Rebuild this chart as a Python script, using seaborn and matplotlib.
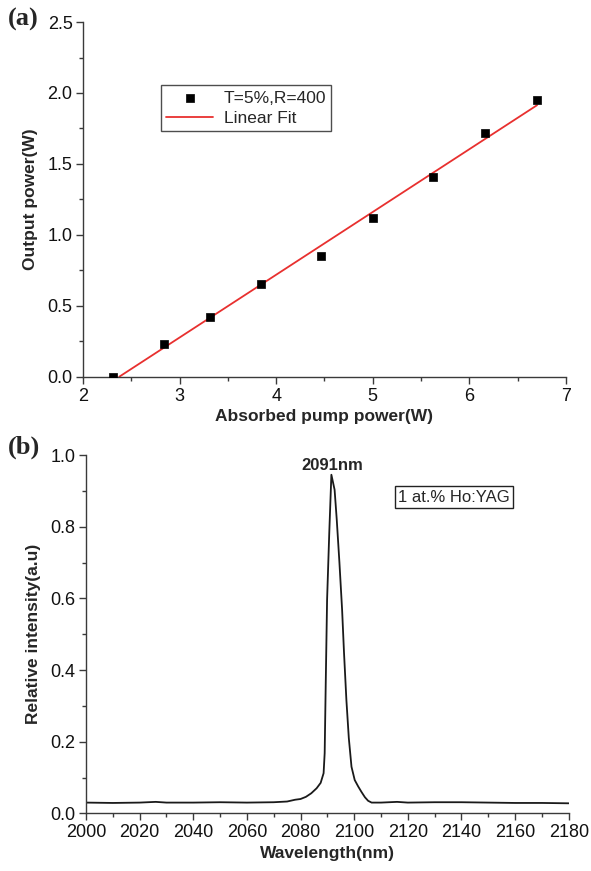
import numpy as np
import pandas as pd
import matplotlib
matplotlib.use("Agg")
import matplotlib.pyplot as plt
from matplotlib.ticker import MultipleLocator, FormatStrFormatter
import seaborn as sns

# (a) laser output versus absorbed pump power
pump_power = [2.31, 2.84, 3.32, 3.84, 4.46, 5.00, 5.62, 6.16, 6.70]
output_power = [0.00, 0.23, 0.42, 0.65, 0.85, 1.12, 1.41, 1.72, 1.95]

# (b) emission spectrum
wavelength = [2000, 2010, 2020, 2026, 2030, 2040, 2050, 2060, 2070, 2075,
              2078, 2080, 2082, 2084, 2086, 2087.5, 2088.6, 2089.0, 2089.4,
              2089.9, 2090.7, 2091.5, 2092.7, 2093.5, 2094.5, 2095.5, 2096.2,
              2097.1, 2098.0, 2099.0, 2100.2, 2101.5, 2102.7, 2104.0, 2105.2,
              2106.5, 2110, 2116, 2120, 2130, 2140, 2150, 2160, 2170, 2180]
intensity = [0.030, 0.029, 0.030, 0.032, 0.030, 0.030, 0.031, 0.030, 0.031,
             0.033, 0.038, 0.040, 0.046, 0.056, 0.070, 0.085, 0.112, 0.168,
             0.364, 0.596, 0.780, 0.945, 0.903, 0.820, 0.700, 0.568, 0.450,
             0.316, 0.210, 0.130, 0.093, 0.075, 0.060, 0.045, 0.035,
             0.030, 0.030, 0.032, 0.030, 0.031, 0.031, 0.030, 0.029, 0.029, 0.028]

peak_label = "2091nm"
sample_label = "1 at.% Ho:YAG"

sns.set_theme(style="ticks")
plt.rcParams["font.family"] = ["Liberation Sans", "DejaVu Sans"]
axis_color = "#3a3a3a"
plt.rcParams.update({
    "axes.edgecolor": axis_color,
    "axes.linewidth": 1.0,
    "xtick.color": axis_color,
    "ytick.color": axis_color,
    "xtick.labelcolor": "#111111",
    "ytick.labelcolor": "#111111",
    "xtick.major.size": 5, "ytick.major.size": 5,
    "xtick.minor.size": 3, "ytick.minor.size": 3,
    "xtick.major.width": 1.0, "ytick.major.width": 1.0,
    "xtick.minor.width": 1.0, "ytick.minor.width": 1.0,
    "xtick.major.pad": 3, "ytick.major.pad": 2.5,
    "xtick.labelsize": 13, "ytick.labelsize": 13,
})

label_size = 12.5

fig = plt.figure(figsize=(5.91, 8.71), dpi=100)
ax1 = fig.add_axes([0.1404, 0.5675, 0.8173, 0.4072])
ax2 = fig.add_axes([0.1455, 0.0662, 0.8168, 0.4114])

# ---- panel (a)
df_a = pd.DataFrame({"pump": pump_power, "out": output_power})
slope, intercept = np.polyfit(df_a["pump"], df_a["out"], 1)
x0 = -intercept / slope
fit_x = np.array([x0, max(pump_power)])
df_fit = pd.DataFrame({"pump": fit_x, "out": slope * fit_x + intercept})

sns.scatterplot(data=df_a, x="pump", y="out", ax=ax1, marker="s", s=40,
                color="black", edgecolor="black", linewidth=0.5,
                label="T=5%,R=400", zorder=3)
sns.lineplot(data=df_fit, x="pump", y="out", ax=ax1, color="#e8302f",
             linewidth=1.3, label="Linear Fit", zorder=2)

ax1.set_xlim(2, 7)
ax1.set_ylim(0, 2.5)
ax1.xaxis.set_major_locator(MultipleLocator(1))
ax1.xaxis.set_minor_locator(MultipleLocator(0.5))
ax1.yaxis.set_major_locator(MultipleLocator(0.5))
ax1.yaxis.set_minor_locator(MultipleLocator(0.25))
ax1.yaxis.set_major_formatter(FormatStrFormatter("%.1f"))
ax1.set_xlabel("Absorbed pump power(W)", fontsize=label_size, fontweight="bold", labelpad=3)
ax1.set_ylabel("Output power(W)", fontsize=label_size, fontweight="bold", labelpad=7)
sns.despine(ax=ax1)

leg = ax1.legend(loc="upper left", bbox_to_anchor=(0.162, 0.822), fontsize=12.5,
                 frameon=True, fancybox=False, borderpad=0.3, handlelength=2.7,
                 handletextpad=0.6, labelspacing=0.3, borderaxespad=0)
leg.get_frame().set_edgecolor("#222222")
leg.get_frame().set_linewidth(1.0)

# ---- panel (b)
df_b = pd.DataFrame({"wl": wavelength, "I": intensity})
sns.lineplot(data=df_b, x="wl", y="I", ax=ax2, color="#1a1a1a", linewidth=1.3,
             sort=False)
ax2.set_xlim(2000, 2180)
ax2.set_ylim(0, 1.0)
ax2.xaxis.set_major_locator(MultipleLocator(20))
ax2.xaxis.set_minor_locator(MultipleLocator(10))
ax2.yaxis.set_major_locator(MultipleLocator(0.2))
ax2.yaxis.set_minor_locator(MultipleLocator(0.1))
ax2.yaxis.set_major_formatter(FormatStrFormatter("%.1f"))
ax2.set_xlabel("Wavelength(nm)", fontsize=label_size, fontweight="bold", labelpad=3)
ax2.set_ylabel("Relative intensity(a.u)", fontsize=label_size, fontweight="bold", labelpad=7)
sns.despine(ax=ax2)

ax2.text(2091.9, 0.972, peak_label, ha="center", va="center",
         fontsize=12, fontweight="bold")
ax2.text(0.647, 0.882, sample_label, transform=ax2.transAxes, ha="left",
         va="center", fontsize=12,
         bbox=dict(boxstyle="square,pad=0.2", facecolor="white",
                   edgecolor="#222222", linewidth=1.0))

# panel letters
fig.text(0.014, 0.978, "(a)", fontsize=19, fontweight="bold",
         family="Liberation Serif", va="center", ha="left")
fig.text(0.014, 0.486, "(b)", fontsize=19, fontweight="bold",
         family="Liberation Serif", va="center", ha="left")

fig.savefig("out.png", dpi=100)
